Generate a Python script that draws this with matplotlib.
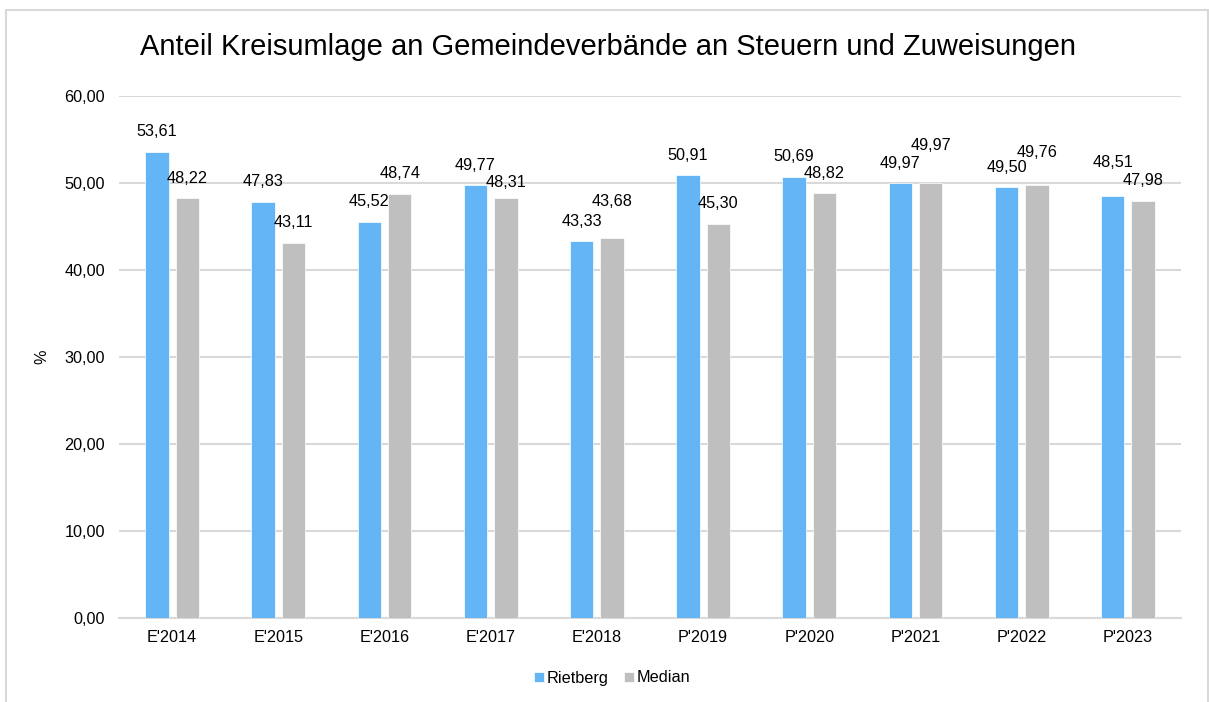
import matplotlib
matplotlib.use("Agg")
import matplotlib.pyplot as plt
import numpy as np
from matplotlib.patches import Rectangle
from matplotlib.ticker import FuncFormatter, MultipleLocator

plt.rcParams['font.family'] = ['Liberation Sans', 'DejaVu Sans']

categories = ["E'2014", "E'2015", "E'2016", "E'2017", "E'2018",
              "P'2019", "P'2020", "P'2021", "P'2022", "P'2023"]
rietberg = [53.61, 47.83, 45.52, 49.77, 43.33, 50.91, 50.69, 49.97, 49.50, 48.51]
median = [48.22, 43.11, 48.74, 48.31, 43.68, 45.30, 48.82, 49.97, 49.76, 47.98]

title = "Anteil Kreisumlage an Gemeindeverbände an Steuern und Zuweisungen"
ylabel = "%"
series_names = ["Rietberg", "Median"]

# label nudges (extra pixels upward) to mimic Excel's overlap avoidance
nudge_r = [0, 0, 0, 0, 0, 0, 0, 0, 0, 13]
nudge_m = [0, 0, 0, -5, 16, 0, 0, 18, 13, 0]

blue = "#64B5F6"
grey = "#BFBFBF"
gridc = "#D9D9D9"
fs = 11.7

W, H = 1209, 702
fig = plt.figure(figsize=(W / 100, H / 100), dpi=100)
ax = fig.add_axes([119 / W, 1 - 618 / H, (1181 - 119) / W, (618 - 96) / H])

x = np.arange(len(categories))
bw = 0.22
off = 0.143
b1 = ax.bar(x - off, rietberg, bw, color=blue, edgecolor="white", linewidth=0.5, label=series_names[0], zorder=3)
b2 = ax.bar(x + off, median, bw, color=grey, edgecolor="white", linewidth=0.5, label=series_names[1], zorder=3)

fmt = lambda v: f"{v:.2f}".replace(".", ",")
for xi, v, n in zip(x - off, rietberg, nudge_r):
    ax.annotate(fmt(v), (xi, v), xytext=(0, (20 + n) * 0.72), textcoords="offset points",
                ha="center", va="center", fontsize=fs, color="#000000", zorder=4)
for xi, v, n in zip(x + off, median, nudge_m):
    ax.annotate(fmt(v), (xi, v), xytext=(0, (20 + n) * 0.72), textcoords="offset points",
                ha="center", va="center", fontsize=fs, color="#000000", zorder=4)

ax.set_xlim(-0.5, len(categories) - 0.5)
ax.set_ylim(0, 60)
ax.yaxis.set_major_locator(MultipleLocator(10))
ax.yaxis.set_major_formatter(FuncFormatter(lambda v, p: fmt(v)))
ax.set_xticks(x)
ax.set_xticklabels(categories)
ax.tick_params(axis="both", length=0, labelsize=fs, colors="#000000")
ax.tick_params(axis="y", pad=10)
ax.tick_params(axis="x", pad=9)
ax.grid(axis="y", color=gridc, linewidth=1.5, zorder=0)
ax.set_axisbelow(True)
for s in ["top", "right", "left"]:
    ax.spines[s].set_visible(False)
ax.spines["bottom"].set_color(gridc)
ax.spines["bottom"].set_linewidth(1.5)

ax.set_ylabel(ylabel, fontsize=fs, labelpad=0)
ax.yaxis.set_label_coords((49 - 119) / (1181 - 119), 0.5)

fig.text(608 / W, 1 - 47 / H, title, ha="center", va="center", fontsize=21)

fig.legend(handles=[b1, b2], labels=series_names, loc="center", bbox_to_anchor=(612 / W, 1 - 678 / H),
           ncol=2, frameon=False, fontsize=fs, handlelength=0.6, handleheight=0.6,
           handletextpad=0.15, columnspacing=1.0, borderpad=0.2)

fig.patches.append(Rectangle((6 / W, -0.05), (1208 - 6) / W, 1 - 10 / H + 0.05,
                             transform=fig.transFigure, fill=False, edgecolor=gridc, linewidth=1.5))

fig.savefig("out.png", dpi=100)
